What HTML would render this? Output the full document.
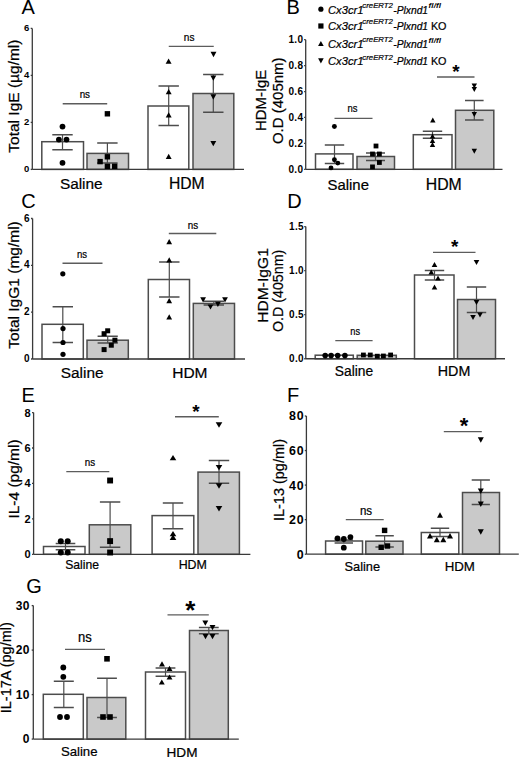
<!DOCTYPE html>
<html><head><meta charset="utf-8"><style>
html,body{margin:0;padding:0;background:#fff;}
body{width:520px;height:758px;overflow:hidden;}
svg{display:block;font-family:"Liberation Sans", sans-serif;}
text{stroke:#000;stroke-width:0.22px;}
text.pl,text[font-weight=bold]{stroke:none;}
</style></head><body>
<svg width="520" height="758" viewBox="0 0 520 758">
<rect x="41.8" y="141.7" width="41.7" height="27.7" fill="#fff"/>
<rect x="87.0" y="153.4" width="41.5" height="16.0" fill="#c9c9c9"/>
<rect x="148.0" y="106.0" width="40.8" height="63.4" fill="#fff"/>
<rect x="193.0" y="93.5" width="40.8" height="75.9" fill="#c9c9c9"/>
<rect x="315.5" y="153.9" width="37.5" height="15.4" fill="#fff"/>
<rect x="357.0" y="156.5" width="37.5" height="12.8" fill="#c9c9c9"/>
<rect x="413.3" y="134.7" width="38.7" height="34.6" fill="#fff"/>
<rect x="455.5" y="110.3" width="38.3" height="59.0" fill="#c9c9c9"/>
<rect x="42.0" y="324.3" width="41.3" height="34.7" fill="#fff"/>
<rect x="87.0" y="340.2" width="41.3" height="18.8" fill="#c9c9c9"/>
<rect x="148.3" y="279.5" width="41.2" height="79.5" fill="#fff"/>
<rect x="193.3" y="303.4" width="41.2" height="55.6" fill="#c9c9c9"/>
<rect x="315.2" y="355.2" width="38.1" height="3.55" fill="#fff"/>
<rect x="357.2" y="355.3" width="39.1" height="3.45" fill="#c9c9c9"/>
<rect x="414.5" y="275.0" width="39.5" height="83.75" fill="#fff"/>
<rect x="457.5" y="299.5" width="38.0" height="59.25" fill="#c9c9c9"/>
<rect x="43.5" y="546.5" width="41.5" height="7.8" fill="#fff"/>
<rect x="89.3" y="524.8" width="41.5" height="29.5" fill="#c9c9c9"/>
<rect x="152.1" y="515.6" width="41.7" height="38.7" fill="#fff"/>
<rect x="198.0" y="472.1" width="41.4" height="82.2" fill="#c9c9c9"/>
<rect x="325.6" y="541.0" width="36.9" height="13.2" fill="#fff"/>
<rect x="365.8" y="541.2" width="37.2" height="13.0" fill="#c9c9c9"/>
<rect x="421.3" y="532.5" width="37.5" height="21.7" fill="#fff"/>
<rect x="462.5" y="492.5" width="37.0" height="61.7" fill="#c9c9c9"/>
<rect x="43.3" y="694.3" width="40.0" height="44.8" fill="#fff"/>
<rect x="87.0" y="697.5" width="38.8" height="41.6" fill="#c9c9c9"/>
<rect x="145.5" y="672.0" width="40.0" height="67.1" fill="#fff"/>
<rect x="189.5" y="630.5" width="38.8" height="108.6" fill="#c9c9c9"/>
<text x="21.5" y="14.2" font-size="20" class="pl">A</text>
<text x="19.0" y="96.1" font-size="15.5" text-anchor="middle" transform="rotate(-90 19.0 96.1)">Total IgE (µg/ml)</text>
<path d="M32.3 28.4V169.4" stroke="#3a3a3a" stroke-width="1.3"/>
<path d="M30.7 28.4H32.3" stroke="#3a3a3a" stroke-width="1.3"/>
<text x="29.7" y="31.12" font-size="9.5" text-anchor="end" font-weight="bold" letter-spacing="0.4">6</text>
<path d="M30.7 75.4H32.3" stroke="#3a3a3a" stroke-width="1.3"/>
<text x="29.7" y="78.12" font-size="9.5" text-anchor="end" font-weight="bold" letter-spacing="0.4">4</text>
<path d="M30.7 122.4H32.3" stroke="#3a3a3a" stroke-width="1.3"/>
<text x="29.7" y="125.12" font-size="9.5" text-anchor="end" font-weight="bold" letter-spacing="0.4">2</text>
<path d="M30.7 169.4H32.3" stroke="#3a3a3a" stroke-width="1.3"/>
<text x="29.7" y="172.12" font-size="9.5" text-anchor="end" font-weight="bold" letter-spacing="0.4">0</text>
<rect x="41.8" y="141.7" width="41.7" height="27.7" fill="none" stroke="#4c4c4c" stroke-width="1.5"/>
<rect x="87.0" y="153.4" width="41.5" height="16.0" fill="none" stroke="#4c4c4c" stroke-width="1.5"/>
<rect x="148.0" y="106.0" width="40.8" height="63.4" fill="none" stroke="#4c4c4c" stroke-width="1.5"/>
<rect x="193.0" y="93.5" width="40.8" height="75.9" fill="none" stroke="#4c4c4c" stroke-width="1.5"/>
<path d="M32.3 169.4H244.0" stroke="#3a3a3a" stroke-width="1.3"/>
<path d="M62.5 134.8V149.7" stroke="#4c4c4c" stroke-width="1.2" fill="none"/>
<path d="M52.3 134.8H72.7M52.3 149.7H72.7" stroke="#4c4c4c" stroke-width="1.5" fill="none"/>
<path d="M107.4 143.0V163.0" stroke="#4c4c4c" stroke-width="1.2" fill="none"/>
<path d="M97.2 143.0H117.6M97.2 163.0H117.6" stroke="#4c4c4c" stroke-width="1.5" fill="none"/>
<path d="M168.7 86.1V125.6" stroke="#4c4c4c" stroke-width="1.2" fill="none"/>
<path d="M158.5 86.1H178.9M158.5 125.6H178.9" stroke="#4c4c4c" stroke-width="1.5" fill="none"/>
<path d="M213.3 74.5V112.2" stroke="#4c4c4c" stroke-width="1.2" fill="none"/>
<path d="M203.1 74.5H223.5M203.1 112.2H223.5" stroke="#4c4c4c" stroke-width="1.5" fill="none"/>
<path d="M62.7 103.75H107.2" stroke="#5c5c5c" stroke-width="1.4"/>
<text x="79.65" y="97.7" font-size="11" textLength="10.4" lengthAdjust="spacingAndGlyphs">ns</text>
<path d="M168.75 46.4H213.75" stroke="#5c5c5c" stroke-width="1.4"/>
<text x="183.8" y="41.0" font-size="11" textLength="10.6" lengthAdjust="spacingAndGlyphs">ns</text>
<text x="59.89" y="188.8" font-size="15.4">Saline</text>
<text x="168.9" y="188.8" font-size="15.7">HDM</text>
<text x="286.44" y="14.4" font-size="20" class="pl">B</text>
<text x="328.0" y="13.5" font-size="11.2" font-style="italic">Cx3cr1</text>
<text x="362.3" y="8.1" font-size="7.8" font-style="italic">creERT2</text>
<text x="393.3" y="13.5" font-size="10.25" font-style="italic">-Plxnd1</text>
<text x="428.6" y="8.3" font-size="8.0" font-style="italic" font-weight="bold" letter-spacing="0.1">fl/fl</text>
<text x="328.0" y="29.8" font-size="11.2" font-style="italic">Cx3cr1</text>
<text x="362.3" y="24.4" font-size="7.8" font-style="italic">creERT2</text>
<text x="393.3" y="29.8" font-size="10.25" font-style="italic">-Plxnd1</text>
<text x="430.9" y="29.8" font-size="10.8">KO</text>
<text x="328.0" y="47.7" font-size="11.2" font-style="italic">Cx3cr1</text>
<text x="362.3" y="42.3" font-size="7.8" font-style="italic">creERT2</text>
<text x="393.3" y="47.7" font-size="10.25" font-style="italic">-Plxnd1</text>
<text x="428.6" y="42.5" font-size="8.0" font-style="italic" font-weight="bold" letter-spacing="0.1">fl/fl</text>
<text x="328.0" y="65.0" font-size="11.2" font-style="italic">Cx3cr1</text>
<text x="362.3" y="59.6" font-size="7.8" font-style="italic">creERT2</text>
<text x="393.3" y="65.0" font-size="10.25" font-style="italic">-Plxnd1</text>
<text x="430.9" y="65.0" font-size="10.8">KO</text>
<text x="265.6" y="130.95" font-size="15" textLength="61.2" lengthAdjust="spacingAndGlyphs" transform="rotate(-90 265.6 130.95)">HDM-IgE</text>
<text x="283.2" y="144.05" font-size="15" textLength="86.6" lengthAdjust="spacingAndGlyphs" transform="rotate(-90 283.2 144.05)">O.D (405nm)</text>
<path d="M305.7 39.7V169.3" stroke="#3a3a3a" stroke-width="1.3"/>
<path d="M304.1 39.7H305.7" stroke="#3a3a3a" stroke-width="1.3"/>
<text x="303.3" y="43.3" font-size="10" text-anchor="end" font-weight="bold" letter-spacing="0.3">1.0</text>
<path d="M304.1 65.62H305.7" stroke="#3a3a3a" stroke-width="1.3"/>
<text x="303.3" y="69.22" font-size="10" text-anchor="end" font-weight="bold" letter-spacing="0.3">0.8</text>
<path d="M304.1 91.54H305.7" stroke="#3a3a3a" stroke-width="1.3"/>
<text x="303.3" y="95.14" font-size="10" text-anchor="end" font-weight="bold" letter-spacing="0.3">0.6</text>
<path d="M304.1 117.46H305.7" stroke="#3a3a3a" stroke-width="1.3"/>
<text x="303.3" y="121.06" font-size="10" text-anchor="end" font-weight="bold" letter-spacing="0.3">0.4</text>
<path d="M304.1 143.38H305.7" stroke="#3a3a3a" stroke-width="1.3"/>
<text x="303.3" y="146.98" font-size="10" text-anchor="end" font-weight="bold" letter-spacing="0.3">0.2</text>
<path d="M304.1 169.3H305.7" stroke="#3a3a3a" stroke-width="1.3"/>
<text x="303.3" y="172.9" font-size="10" text-anchor="end" font-weight="bold" letter-spacing="0.3">0.0</text>
<rect x="315.5" y="153.9" width="37.5" height="15.4" fill="none" stroke="#4c4c4c" stroke-width="1.5"/>
<rect x="357.0" y="156.5" width="37.5" height="12.8" fill="none" stroke="#4c4c4c" stroke-width="1.5"/>
<rect x="413.3" y="134.7" width="38.7" height="34.6" fill="none" stroke="#4c4c4c" stroke-width="1.5"/>
<rect x="455.5" y="110.3" width="38.3" height="59.0" fill="none" stroke="#4c4c4c" stroke-width="1.5"/>
<path d="M305.7 169.3H502.5" stroke="#3a3a3a" stroke-width="1.3"/>
<path d="M334.5 145.0V163.6" stroke="#4c4c4c" stroke-width="1.2" fill="none"/>
<path d="M324.8 145.0H344.2M324.8 163.6H344.2" stroke="#4c4c4c" stroke-width="1.5" fill="none"/>
<path d="M375.5 153.0V160.5" stroke="#4c4c4c" stroke-width="1.2" fill="none"/>
<path d="M366.0 153.0H385.0M366.0 160.5H385.0" stroke="#4c4c4c" stroke-width="1.5" fill="none"/>
<path d="M432.5 131.3V138.3" stroke="#4c4c4c" stroke-width="1.2" fill="none"/>
<path d="M422.8 131.3H442.2M422.8 138.3H442.2" stroke="#4c4c4c" stroke-width="1.5" fill="none"/>
<path d="M474.3 100.5V120.0" stroke="#4c4c4c" stroke-width="1.2" fill="none"/>
<path d="M465.0 100.5H483.6M465.0 120.0H483.6" stroke="#4c4c4c" stroke-width="1.5" fill="none"/>
<path d="M334.5 118.4H372.5" stroke="#5c5c5c" stroke-width="1.4"/>
<text x="347.4" y="112.0" font-size="11" textLength="10.0" lengthAdjust="spacingAndGlyphs">ns</text>
<path d="M437.0 77.0H474.5" stroke="#5c5c5c" stroke-width="1.4"/>
<text x="456.05" y="77.95" font-size="19" text-anchor="middle" font-weight="bold">*</text>
<text x="327.53" y="189.6" font-size="14.9">Saline</text>
<text x="425.79" y="189.6" font-size="15.8">HDM</text>
<text x="21.22" y="207.9" font-size="20" class="pl">C</text>
<text x="19.0" y="285.0" font-size="15.5" text-anchor="middle" transform="rotate(-90 19.0 285.0)">Total IgG1 (mg/ml)</text>
<path d="M32.6 218.48V359.0" stroke="#3a3a3a" stroke-width="1.3"/>
<path d="M31.0 218.48H32.6" stroke="#3a3a3a" stroke-width="1.3"/>
<text x="29.9" y="221.58" font-size="10" text-anchor="end" font-weight="bold" letter-spacing="0.3">6</text>
<path d="M31.0 265.32H32.6" stroke="#3a3a3a" stroke-width="1.3"/>
<text x="29.9" y="268.42" font-size="10" text-anchor="end" font-weight="bold" letter-spacing="0.3">4</text>
<path d="M31.0 312.16H32.6" stroke="#3a3a3a" stroke-width="1.3"/>
<text x="29.9" y="315.26" font-size="10" text-anchor="end" font-weight="bold" letter-spacing="0.3">2</text>
<path d="M31.0 359.0H32.6" stroke="#3a3a3a" stroke-width="1.3"/>
<text x="29.9" y="362.1" font-size="10" text-anchor="end" font-weight="bold" letter-spacing="0.3">0</text>
<rect x="42.0" y="324.3" width="41.3" height="34.7" fill="none" stroke="#4c4c4c" stroke-width="1.5"/>
<rect x="87.0" y="340.2" width="41.3" height="18.8" fill="none" stroke="#4c4c4c" stroke-width="1.5"/>
<rect x="148.3" y="279.5" width="41.2" height="79.5" fill="none" stroke="#4c4c4c" stroke-width="1.5"/>
<rect x="193.3" y="303.4" width="41.2" height="55.6" fill="none" stroke="#4c4c4c" stroke-width="1.5"/>
<path d="M32.6 359.0H245.0" stroke="#3a3a3a" stroke-width="1.3"/>
<path d="M62.8 306.8V342.6" stroke="#4c4c4c" stroke-width="1.2" fill="none"/>
<path d="M52.6 306.8H73.0M52.6 342.6H73.0" stroke="#4c4c4c" stroke-width="1.5" fill="none"/>
<path d="M107.7 336.3V343.1" stroke="#4c4c4c" stroke-width="1.2" fill="none"/>
<path d="M97.6 336.3H117.8M97.6 343.1H117.8" stroke="#4c4c4c" stroke-width="1.5" fill="none"/>
<path d="M169.3 262.0V297.0" stroke="#4c4c4c" stroke-width="1.2" fill="none"/>
<path d="M159.1 262.0H179.5M159.1 297.0H179.5" stroke="#4c4c4c" stroke-width="1.5" fill="none"/>
<path d="M213.8 301.2V305.0" stroke="#4c4c4c" stroke-width="1.2" fill="none"/>
<path d="M203.6 301.2H224.0M203.6 305.0H224.0" stroke="#4c4c4c" stroke-width="1.5" fill="none"/>
<path d="M62.5 263.2H102.5" stroke="#5c5c5c" stroke-width="1.4"/>
<text x="76.9" y="257.8" font-size="11" textLength="10.1" lengthAdjust="spacingAndGlyphs">ns</text>
<path d="M168.8 233.5H216.3" stroke="#5c5c5c" stroke-width="1.4"/>
<text x="187.8" y="229.0" font-size="11" textLength="10.4" lengthAdjust="spacingAndGlyphs">ns</text>
<text x="60.69" y="377.5" font-size="15.45">Saline</text>
<text x="172.22" y="378.0" font-size="15.5">HDM</text>
<text x="287.16" y="207.6" font-size="20" class="pl">D</text>
<text x="268.0" y="322.65" font-size="15" textLength="74.5" lengthAdjust="spacingAndGlyphs" transform="rotate(-90 268.0 322.65)">HDM-IgG1</text>
<text x="283.3" y="331.95" font-size="15" textLength="82.2" lengthAdjust="spacingAndGlyphs" transform="rotate(-90 283.3 331.95)">O.D (405nm)</text>
<path d="M305.8 226.6V358.75" stroke="#3a3a3a" stroke-width="1.3"/>
<path d="M304.2 226.6H305.8" stroke="#3a3a3a" stroke-width="1.3"/>
<text x="303.9" y="230.2" font-size="10" text-anchor="end" font-weight="bold" letter-spacing="0.3">1.5</text>
<path d="M304.2 270.65H305.8" stroke="#3a3a3a" stroke-width="1.3"/>
<text x="303.9" y="274.25" font-size="10" text-anchor="end" font-weight="bold" letter-spacing="0.3">1.0</text>
<path d="M304.2 314.7H305.8" stroke="#3a3a3a" stroke-width="1.3"/>
<text x="303.9" y="318.3" font-size="10" text-anchor="end" font-weight="bold" letter-spacing="0.3">0.5</text>
<path d="M304.2 358.75H305.8" stroke="#3a3a3a" stroke-width="1.3"/>
<text x="303.9" y="362.35" font-size="10" text-anchor="end" font-weight="bold" letter-spacing="0.3">0.0</text>
<rect x="315.2" y="355.2" width="38.1" height="3.55" fill="none" stroke="#4c4c4c" stroke-width="1.5"/>
<rect x="357.2" y="355.3" width="39.1" height="3.45" fill="none" stroke="#4c4c4c" stroke-width="1.5"/>
<rect x="414.5" y="275.0" width="39.5" height="83.75" fill="none" stroke="#4c4c4c" stroke-width="1.5"/>
<rect x="457.5" y="299.5" width="38.0" height="59.25" fill="none" stroke="#4c4c4c" stroke-width="1.5"/>
<path d="M305.8 358.75H505.0" stroke="#3a3a3a" stroke-width="1.3"/>
<path d="M434.5 270.5V280.0" stroke="#4c4c4c" stroke-width="1.2" fill="none"/>
<path d="M424.8 270.5H444.2M424.8 280.0H444.2" stroke="#4c4c4c" stroke-width="1.5" fill="none"/>
<path d="M476.5 287.0V312.5" stroke="#4c4c4c" stroke-width="1.2" fill="none"/>
<path d="M466.8 287.0H486.2M466.8 312.5H486.2" stroke="#4c4c4c" stroke-width="1.5" fill="none"/>
<path d="M335.3 340.6H372.6" stroke="#5c5c5c" stroke-width="1.4"/>
<text x="350.35" y="335.0" font-size="11" textLength="9.8" lengthAdjust="spacingAndGlyphs">ns</text>
<path d="M433.0 252.4H475.5" stroke="#5c5c5c" stroke-width="1.4"/>
<text x="454.75" y="253.45" font-size="19" text-anchor="middle" font-weight="bold">*</text>
<text x="334.83" y="376.2" font-size="13.8">Saline</text>
<text x="437.8" y="376.2" font-size="14.3">HDM</text>
<text x="21.42" y="402.0" font-size="20" class="pl">E</text>
<text x="18.8" y="479.0" font-size="15.5" text-anchor="middle" transform="rotate(-90 18.8 479.0)">IL-4 (pg/ml)</text>
<path d="M33.6 412.54V554.3" stroke="#3a3a3a" stroke-width="1.3"/>
<path d="M32.0 412.54H33.6" stroke="#3a3a3a" stroke-width="1.3"/>
<text x="30.9" y="416.5" font-size="11" text-anchor="end" font-weight="bold" letter-spacing="0.3">8</text>
<path d="M32.0 447.98H33.6" stroke="#3a3a3a" stroke-width="1.3"/>
<text x="30.9" y="451.94" font-size="11" text-anchor="end" font-weight="bold" letter-spacing="0.3">6</text>
<path d="M32.0 483.42H33.6" stroke="#3a3a3a" stroke-width="1.3"/>
<text x="30.9" y="487.38" font-size="11" text-anchor="end" font-weight="bold" letter-spacing="0.3">4</text>
<path d="M32.0 518.86H33.6" stroke="#3a3a3a" stroke-width="1.3"/>
<text x="30.9" y="522.82" font-size="11" text-anchor="end" font-weight="bold" letter-spacing="0.3">2</text>
<path d="M32.0 554.3H33.6" stroke="#3a3a3a" stroke-width="1.3"/>
<text x="30.9" y="558.26" font-size="11" text-anchor="end" font-weight="bold" letter-spacing="0.3">0</text>
<rect x="43.5" y="546.5" width="41.5" height="7.8" fill="none" stroke="#4c4c4c" stroke-width="1.5"/>
<rect x="89.3" y="524.8" width="41.5" height="29.5" fill="none" stroke="#4c4c4c" stroke-width="1.5"/>
<rect x="152.1" y="515.6" width="41.7" height="38.7" fill="none" stroke="#4c4c4c" stroke-width="1.5"/>
<rect x="198.0" y="472.1" width="41.4" height="82.2" fill="none" stroke="#4c4c4c" stroke-width="1.5"/>
<path d="M33.6 554.3H250.4" stroke="#3a3a3a" stroke-width="1.3"/>
<path d="M65.5 543.4V549.8" stroke="#4c4c4c" stroke-width="1.2" fill="none"/>
<path d="M55.7 543.4H75.3M55.7 549.8H75.3" stroke="#4c4c4c" stroke-width="1.5" fill="none"/>
<path d="M110.1 502.0V547.3" stroke="#4c4c4c" stroke-width="1.2" fill="none"/>
<path d="M99.9 502.0H120.3M99.9 547.3H120.3" stroke="#4c4c4c" stroke-width="1.5" fill="none"/>
<path d="M173.0 503.0V528.8" stroke="#4c4c4c" stroke-width="1.2" fill="none"/>
<path d="M162.8 503.0H183.2M162.8 528.8H183.2" stroke="#4c4c4c" stroke-width="1.5" fill="none"/>
<path d="M219.0 460.5V483.3" stroke="#4c4c4c" stroke-width="1.2" fill="none"/>
<path d="M208.8 460.5H229.2M208.8 483.3H229.2" stroke="#4c4c4c" stroke-width="1.5" fill="none"/>
<path d="M66.3 471.6H109.3" stroke="#5c5c5c" stroke-width="1.4"/>
<text x="84.7" y="466.0" font-size="11" textLength="10.4" lengthAdjust="spacingAndGlyphs">ns</text>
<path d="M175.0 416.75H218.8" stroke="#5c5c5c" stroke-width="1.4"/>
<text x="196.05" y="417.6" font-size="19" text-anchor="middle" font-weight="bold">*</text>
<text x="65.21" y="569.3" font-size="12.2">Saline</text>
<text x="178.63" y="569.3" font-size="12.4">HDM</text>
<text x="287.06" y="401.8" font-size="20" class="pl">F</text>
<text x="284.0" y="480.0" font-size="14.5" text-anchor="middle" transform="rotate(-90 284.0 480.0)">IL-13 (pg/ml)</text>
<path d="M306.4 416.0V554.2" stroke="#3a3a3a" stroke-width="1.3"/>
<path d="M304.8 416.0H306.4" stroke="#3a3a3a" stroke-width="1.3"/>
<text x="304.5" y="420.46" font-size="12.4" text-anchor="end" font-weight="bold" letter-spacing="0.9">80</text>
<path d="M304.8 450.55H306.4" stroke="#3a3a3a" stroke-width="1.3"/>
<text x="304.5" y="455.01" font-size="12.4" text-anchor="end" font-weight="bold" letter-spacing="0.9">60</text>
<path d="M304.8 485.1H306.4" stroke="#3a3a3a" stroke-width="1.3"/>
<text x="304.5" y="489.56" font-size="12.4" text-anchor="end" font-weight="bold" letter-spacing="0.9">40</text>
<path d="M304.8 519.65H306.4" stroke="#3a3a3a" stroke-width="1.3"/>
<text x="304.5" y="524.11" font-size="12.4" text-anchor="end" font-weight="bold" letter-spacing="0.9">20</text>
<path d="M304.8 554.2H306.4" stroke="#3a3a3a" stroke-width="1.3"/>
<text x="304.5" y="558.66" font-size="12.4" text-anchor="end" font-weight="bold" letter-spacing="0.9">0</text>
<rect x="325.6" y="541.0" width="36.9" height="13.2" fill="none" stroke="#4c4c4c" stroke-width="1.5"/>
<rect x="365.8" y="541.2" width="37.2" height="13.0" fill="none" stroke="#4c4c4c" stroke-width="1.5"/>
<rect x="421.3" y="532.5" width="37.5" height="21.7" fill="none" stroke="#4c4c4c" stroke-width="1.5"/>
<rect x="462.5" y="492.5" width="37.0" height="61.7" fill="none" stroke="#4c4c4c" stroke-width="1.5"/>
<path d="M306.4 554.2H518.8" stroke="#3a3a3a" stroke-width="1.3"/>
<path d="M343.8 540.0V543.0" stroke="#4c4c4c" stroke-width="1.2" fill="none"/>
<path d="M334.6 540.0H353.0M334.6 543.0H353.0" stroke="#4c4c4c" stroke-width="1.5" fill="none"/>
<path d="M384.6 535.8V547.0" stroke="#4c4c4c" stroke-width="1.2" fill="none"/>
<path d="M375.4 535.8H393.8M375.4 547.0H393.8" stroke="#4c4c4c" stroke-width="1.5" fill="none"/>
<path d="M440.0 528.3V536.5" stroke="#4c4c4c" stroke-width="1.2" fill="none"/>
<path d="M430.8 528.3H449.2M430.8 536.5H449.2" stroke="#4c4c4c" stroke-width="1.5" fill="none"/>
<path d="M480.8 480.0V504.5" stroke="#4c4c4c" stroke-width="1.2" fill="none"/>
<path d="M471.7 480.0H489.9M471.7 504.5H489.9" stroke="#4c4c4c" stroke-width="1.5" fill="none"/>
<path d="M345.8 519.6H383.7" stroke="#5c5c5c" stroke-width="1.4"/>
<text x="359.9" y="514.6" font-size="12.5" textLength="12.2" lengthAdjust="spacingAndGlyphs">ns</text>
<path d="M443.8 431.6H481.8" stroke="#5c5c5c" stroke-width="1.4"/>
<text x="464.15" y="433.3" font-size="22" text-anchor="middle" font-weight="bold">*</text>
<text x="344.51" y="570.7" font-size="12.8">Saline</text>
<text x="444.67" y="570.8" font-size="13.3">HDM</text>
<text x="26.24" y="592.9" font-size="20" class="pl">G</text>
<text x="10.8" y="667.7" font-size="14.5" text-anchor="middle" transform="rotate(-90 10.8 667.7)">IL-17A (pg/ml)</text>
<path d="M33.3 605.6V739.1" stroke="#3a3a3a" stroke-width="1.3"/>
<path d="M31.7 605.6H33.3" stroke="#3a3a3a" stroke-width="1.3"/>
<text x="29.8" y="609.92" font-size="12" text-anchor="end" font-weight="bold" letter-spacing="0.3">30</text>
<path d="M31.7 650.1H33.3" stroke="#3a3a3a" stroke-width="1.3"/>
<text x="29.8" y="654.42" font-size="12" text-anchor="end" font-weight="bold" letter-spacing="0.3">20</text>
<path d="M31.7 694.6H33.3" stroke="#3a3a3a" stroke-width="1.3"/>
<text x="29.8" y="698.92" font-size="12" text-anchor="end" font-weight="bold" letter-spacing="0.3">10</text>
<path d="M31.7 739.1H33.3" stroke="#3a3a3a" stroke-width="1.3"/>
<text x="29.8" y="743.42" font-size="12" text-anchor="end" font-weight="bold" letter-spacing="0.3">0</text>
<rect x="43.3" y="694.3" width="40.0" height="44.8" fill="none" stroke="#4c4c4c" stroke-width="1.5"/>
<rect x="87.0" y="697.5" width="38.8" height="41.6" fill="none" stroke="#4c4c4c" stroke-width="1.5"/>
<rect x="145.5" y="672.0" width="40.0" height="67.1" fill="none" stroke="#4c4c4c" stroke-width="1.5"/>
<rect x="189.5" y="630.5" width="38.8" height="108.6" fill="none" stroke="#4c4c4c" stroke-width="1.5"/>
<path d="M33.3 739.1H238.8" stroke="#3a3a3a" stroke-width="1.3"/>
<path d="M63.8 681.3V707.5" stroke="#4c4c4c" stroke-width="1.2" fill="none"/>
<path d="M53.8 681.3H73.8M53.8 707.5H73.8" stroke="#4c4c4c" stroke-width="1.5" fill="none"/>
<path d="M107.0 678.3V717.5" stroke="#4c4c4c" stroke-width="1.2" fill="none"/>
<path d="M97.1 678.3H116.9M97.1 717.5H116.9" stroke="#4c4c4c" stroke-width="1.5" fill="none"/>
<path d="M165.5 668.0V676.3" stroke="#4c4c4c" stroke-width="1.2" fill="none"/>
<path d="M155.6 668.0H175.4M155.6 676.3H175.4" stroke="#4c4c4c" stroke-width="1.5" fill="none"/>
<path d="M208.8 627.5V633.8" stroke="#4c4c4c" stroke-width="1.2" fill="none"/>
<path d="M198.9 627.5H218.7M198.9 633.8H218.7" stroke="#4c4c4c" stroke-width="1.5" fill="none"/>
<path d="M65.0 649.35H105.0" stroke="#5c5c5c" stroke-width="1.4"/>
<text x="78.1" y="642.0" font-size="14" textLength="13.8" lengthAdjust="spacingAndGlyphs">ns</text>
<path d="M167.5 614.9H208.8" stroke="#5c5c5c" stroke-width="1.4"/>
<text x="190.35" y="618.55" font-size="26" text-anchor="middle" font-weight="bold">*</text>
<text x="60.88" y="756.4" font-size="13.2">Saline</text>
<text x="166.55" y="756.5" font-size="13.6">HDM</text>
<circle cx="62.5" cy="126.6" r="2.9"/>
<circle cx="58.9" cy="139.6" r="2.9"/>
<circle cx="66.5" cy="139.6" r="2.9"/>
<circle cx="62.5" cy="162.8" r="2.9"/>
<rect x="104.7" y="111.1" width="5.4" height="5.4"/>
<rect x="104.7" y="154.1" width="5.4" height="5.4"/>
<rect x="97.4" y="158.9" width="5.4" height="5.4"/>
<rect x="104.7" y="163.6" width="5.4" height="5.4"/>
<rect x="112.0" y="163.6" width="5.4" height="5.4"/>
<path d="M168.6 58.55L171.55 63.85H165.65Z"/>
<path d="M168.7 89.05L171.65 94.35H165.75Z"/>
<path d="M168.7 112.25L171.65 117.55H165.75Z"/>
<path d="M168.7 153.65L171.65 158.95H165.75Z"/>
<path d="M210.55 51.85H216.45L213.5 57.15Z"/>
<path d="M210.35 75.45H216.25L213.3 80.75Z"/>
<path d="M210.35 94.35H216.25L213.3 99.65Z"/>
<path d="M210.35 140.95H216.25L213.3 146.25Z"/>
<circle cx="320.9" cy="9.2" r="2.6"/>
<rect x="318.3" y="23.4" width="5.2" height="5.2"/>
<path d="M320.9 41.1L323.7 46.1H318.1Z"/>
<path d="M318.1 58.2H323.7L320.9 63.4Z"/>
<circle cx="334.4" cy="126.5" r="2.45"/>
<circle cx="334.4" cy="159.8" r="2.45"/>
<circle cx="337.8" cy="163.1" r="2.45"/>
<circle cx="331.0" cy="167.9" r="2.45"/>
<rect x="373.6" y="143.6" width="4.8" height="4.8"/>
<rect x="370.1" y="151.6" width="4.8" height="4.8"/>
<rect x="377.0" y="151.6" width="4.8" height="4.8"/>
<rect x="377.0" y="160.1" width="4.8" height="4.8"/>
<rect x="370.1" y="164.5" width="4.8" height="4.8"/>
<path d="M432.8 117.5L435.5 122.5H430.1Z"/>
<path d="M432.5 133.4L435.2 138.4H429.8Z"/>
<path d="M432.5 138.1L435.2 143.1H429.8Z"/>
<path d="M432.5 142.1L435.2 147.1H429.8Z"/>
<path d="M471.6 83.5H477.0L474.3 88.5Z"/>
<path d="M471.6 87.0H477.0L474.3 92.0Z"/>
<path d="M471.6 112.1H477.0L474.3 117.1Z"/>
<path d="M471.6 148.8H477.0L474.3 153.8Z"/>
<circle cx="62.8" cy="273.8" r="2.6"/>
<circle cx="63.0" cy="328.6" r="2.6"/>
<circle cx="63.0" cy="342.5" r="2.6"/>
<circle cx="63.0" cy="354.3" r="2.6"/>
<rect x="105.2" y="328.3" width="5.0" height="5.0"/>
<rect x="101.6" y="331.2" width="5.0" height="5.0"/>
<rect x="112.4" y="337.7" width="5.0" height="5.0"/>
<rect x="108.8" y="342.7" width="5.0" height="5.0"/>
<rect x="101.6" y="347.1" width="5.0" height="5.0"/>
<path d="M169.2 239.1L172.1 244.3H166.3Z"/>
<path d="M169.2 257.3L172.1 262.5H166.3Z"/>
<path d="M169.2 298.1L172.1 303.3H166.3Z"/>
<path d="M169.2 314.2L172.1 319.4H166.3Z"/>
<path d="M200.2 297.3H206.0L203.1 302.5Z"/>
<path d="M222.1 297.3H227.9L225.0 302.5Z"/>
<path d="M207.6 304.4H213.4L210.5 309.6Z"/>
<path d="M215.0 301.7H220.8L217.9 306.9Z"/>
<circle cx="325.2" cy="355.6" r="2.8"/>
<circle cx="331.1" cy="355.6" r="2.8"/>
<circle cx="337.7" cy="355.6" r="2.8"/>
<circle cx="344.9" cy="355.6" r="2.8"/>
<rect x="361.0" y="352.6" width="4.8" height="4.8"/>
<rect x="367.9" y="352.6" width="4.8" height="4.8"/>
<rect x="374.9" y="353.8" width="4.8" height="4.8"/>
<rect x="381.0" y="353.6" width="4.8" height="4.8"/>
<rect x="388.2" y="352.6" width="4.8" height="4.8"/>
<path d="M434.5 262.0L437.3 267.0H431.7Z"/>
<path d="M431.3 269.5L434.1 274.5H428.5Z"/>
<path d="M438.0 275.5L440.8 280.5H435.2Z"/>
<path d="M434.5 284.5L437.3 289.5H431.7Z"/>
<path d="M473.7 260.0H479.3L476.5 265.0Z"/>
<path d="M473.7 300.0H479.3L476.5 305.0Z"/>
<path d="M470.2 315.0H475.8L473.0 320.0Z"/>
<path d="M477.2 312.5H482.8L480.0 317.5Z"/>
<circle cx="60.8" cy="541.3" r="3.0"/>
<circle cx="67.7" cy="541.3" r="3.0"/>
<circle cx="60.8" cy="552.5" r="3.0"/>
<circle cx="67.7" cy="552.5" r="3.0"/>
<rect x="107.15" y="477.55" width="5.9" height="5.9"/>
<rect x="107.15" y="538.15" width="5.9" height="5.9"/>
<rect x="107.15" y="549.55" width="5.9" height="5.9"/>
<path d="M173.0 454.9L176.3 460.3H169.7Z"/>
<path d="M173.0 530.9L176.3 536.3H169.7Z"/>
<path d="M173.0 534.6L176.3 540.0H169.7Z"/>
<path d="M215.7 422.3H222.3L219.0 427.7Z"/>
<path d="M215.7 464.9H222.3L219.0 470.3Z"/>
<path d="M215.7 483.3H222.3L219.0 488.7Z"/>
<path d="M215.7 506.0H222.3L219.0 511.4Z"/>
<circle cx="337.5" cy="538.3" r="2.9"/>
<circle cx="343.8" cy="539.0" r="2.9"/>
<circle cx="350.4" cy="537.1" r="2.9"/>
<circle cx="343.8" cy="547.7" r="2.9"/>
<rect x="381.9" y="527.7" width="5.4" height="5.4"/>
<rect x="378.5" y="544.6" width="5.4" height="5.4"/>
<rect x="384.8" y="543.3" width="5.4" height="5.4"/>
<path d="M440.0 512.3L443.0 517.7H437.0Z"/>
<path d="M430.0 533.1L433.0 538.5H427.0Z"/>
<path d="M436.8 536.8L439.8 542.2H433.8Z"/>
<path d="M443.3 536.8L446.3 542.2H440.3Z"/>
<path d="M450.0 533.1L453.0 538.5H447.0Z"/>
<path d="M477.8 437.25H483.8L480.8 442.75Z"/>
<path d="M477.8 488.55H483.8L480.8 494.05Z"/>
<path d="M477.8 501.55H483.8L480.8 507.05Z"/>
<path d="M477.8 529.25H483.8L480.8 534.75Z"/>
<circle cx="63.3" cy="667.5" r="2.9"/>
<circle cx="63.3" cy="676.8" r="2.9"/>
<circle cx="60.0" cy="717.0" r="2.9"/>
<circle cx="67.0" cy="717.0" r="2.9"/>
<rect x="104.2" y="656.0" width="5.6" height="5.6"/>
<rect x="100.2" y="714.2" width="5.6" height="5.6"/>
<rect x="107.2" y="714.2" width="5.6" height="5.6"/>
<path d="M162.0 661.2L164.95 666.4H159.05Z"/>
<path d="M169.5 665.7L172.45 670.9H166.55Z"/>
<path d="M169.5 674.4L172.45 679.6H166.55Z"/>
<path d="M161.8 679.4L164.75 684.6H158.85Z"/>
<path d="M202.35 620.6H208.25L205.3 625.8Z"/>
<path d="M209.55 625.0H215.45L212.5 630.2Z"/>
<path d="M202.55 634.0H208.45L205.5 639.2Z"/>
<path d="M209.55 634.0H215.45L212.5 639.2Z"/>
</svg>
</body></html>
